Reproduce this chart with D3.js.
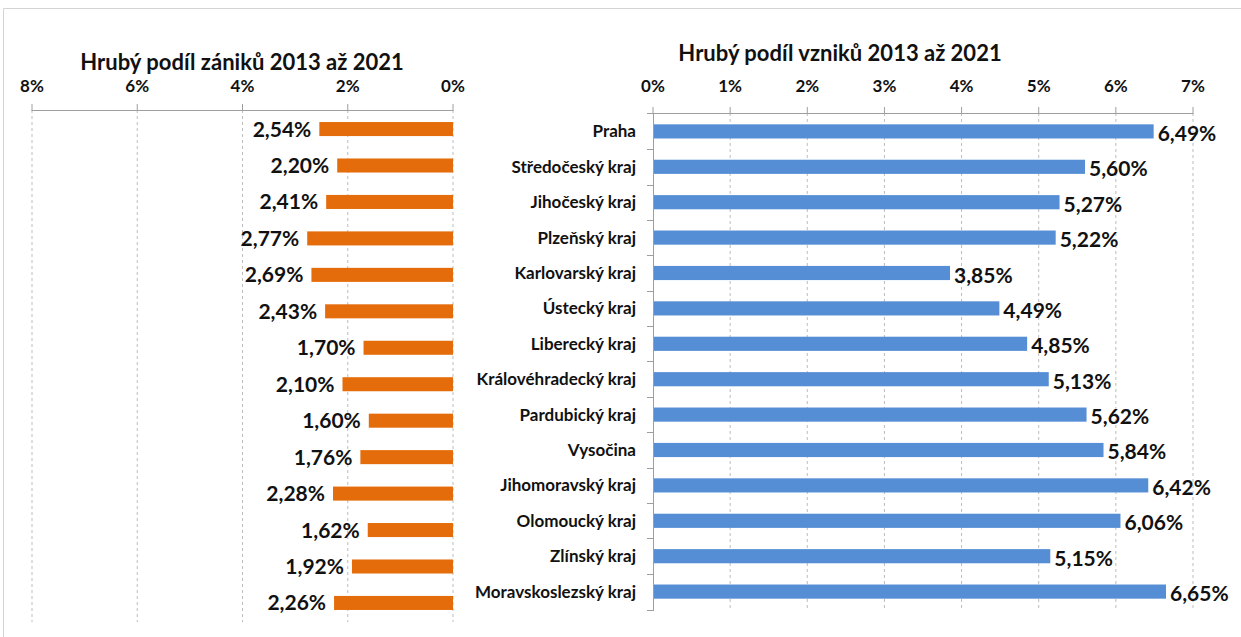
<!DOCTYPE html>
<html><head><meta charset="utf-8">
<script src="https://cdn.jsdelivr.net/npm/d3@7"></script>
<style>
html,body{margin:0;padding:0;background:#fff;}
svg text{font-family:Lato,"Open Sans",sans-serif;font-weight:bold;fill:#111;}
</style></head>
<body>
<svg id="c" width="1241" height="637"></svg>
<script>
const categories = ["Praha","Středočeský kraj","Jihočeský kraj","Plzeňský kraj","Karlovarský kraj","Ústecký kraj","Liberecký kraj","Královéhradecký kraj","Pardubický kraj","Vysočina","Jihomoravský kraj","Olomoucký kraj","Zlínský kraj","Moravskoslezský kraj"];
const zaniky = [2.54,2.20,2.41,2.77,2.69,2.43,1.70,2.10,1.60,1.76,2.28,1.62,1.92,2.26];
const vzniky = [6.49,5.60,5.27,5.22,3.85,4.49,4.85,5.13,5.62,5.84,6.42,6.06,5.15,6.65];
const leftTicks = [0,2,4,6,8];
const rightTicks = [0,1,2,3,4,5,6,7];
const leftTitle = "Hrubý podíl zániků 2013 až 2021";
const rightTitle = "Hrubý podíl vzniků 2013 až 2021";

const fmt = v => v.toFixed(2).replace(".", ",") + "%";
const svg = d3.select("#c");

// frame
svg.append("path").attr("d","M3.5,637 L3.5,8.5 L1241,8.5").attr("fill","none").attr("stroke","#d4d4d4");

// ---------- LEFT CHART ----------
const lx = d3.scaleLinear().domain([0,8]).range([453,32]);
const ly = d3.scaleBand().domain(categories).range([110,622]).paddingInner(0.615).paddingOuter(0.33);
const L = svg.append("g");
L.selectAll("line.grid").data(leftTicks).join("line")
  .attr("x1",d=>lx(d)).attr("x2",d=>lx(d)).attr("y1",110).attr("y2",622)
  .attr("stroke","#bdbdbd").attr("stroke-dasharray","3,3");
L.append("line").attr("x1",lx(8)).attr("x2",lx(0)).attr("y1",110.5).attr("y2",110.5).attr("stroke","#9e9e9e");
L.selectAll("line.tk").data(leftTicks).join("line")
  .attr("x1",d=>lx(d)).attr("x2",d=>lx(d)).attr("y1",104).attr("y2",111).attr("stroke","#9e9e9e");
L.selectAll("text.tl").data(leftTicks).join("text")
  .attr("x",d=>lx(d)).attr("y",92).attr("text-anchor","middle").attr("font-size",17)
  .text(d=>d+"%");
L.selectAll("rect").data(zaniky).join("rect")
  .attr("x",d=>lx(d)).attr("width",d=>lx(0)-lx(d))
  .attr("y",(d,i)=>ly(categories[i])).attr("height",ly.bandwidth())
  .attr("fill","#E46C0A");
L.selectAll("text.vl").data(zaniky).join("text")
  .attr("x",d=>lx(d)-8).attr("y",(d,i)=>ly(categories[i])+ly.bandwidth()/2+7.5)
  .attr("text-anchor","end").attr("font-size",21).text(d=>fmt(d));
L.append("text").attr("x",242).attr("y",70).attr("text-anchor","middle").attr("font-size",22).text(leftTitle);

// ---------- RIGHT CHART ----------
const rx = d3.scaleLinear().domain([0,7]).range([653,1193]);
const ry = d3.scaleBand().domain(categories).range([113,610]).paddingInner(0.6).paddingOuter(0.32);
const R = svg.append("g");
R.selectAll("line.grid").data(rightTicks.slice(1)).join("line")
  .attr("x1",d=>rx(d)).attr("x2",d=>rx(d)).attr("y1",113).attr("y2",610)
  .attr("stroke","#bdbdbd").attr("stroke-dasharray","3,3");
R.append("line").attr("x1",rx(0)).attr("x2",rx(7)).attr("y1",113.5).attr("y2",113.5).attr("stroke","#9e9e9e");
R.selectAll("line.tk").data(rightTicks).join("line")
  .attr("x1",d=>rx(d)).attr("x2",d=>rx(d)).attr("y1",107).attr("y2",114).attr("stroke","#9e9e9e");
R.selectAll("text.tl").data(rightTicks).join("text")
  .attr("x",d=>rx(d)).attr("y",92).attr("text-anchor","middle").attr("font-size",17)
  .text(d=>d+"%");
// category axis
R.append("line").attr("x1",653.5).attr("x2",653.5).attr("y1",113).attr("y2",610).attr("stroke","#9e9e9e");
const bounds = categories.map(c=>ry(c)-ry.step()*ry.paddingInner()/2).concat([610]);
bounds[0]=113;
R.selectAll("line.ct").data(bounds).join("line")
  .attr("x1",647).attr("x2",654).attr("y1",d=>Math.round(d)+0.5).attr("y2",d=>Math.round(d)+0.5).attr("stroke","#9e9e9e");
R.selectAll("text.cat").data(categories).join("text")
  .attr("x",636).attr("y",d=>ry(d)+ry.bandwidth()/2+6)
  .attr("text-anchor","end").attr("font-size",17).text(d=>d);
R.selectAll("rect").data(vzniky).join("rect")
  .attr("x",rx(0)+1).attr("width",d=>rx(d)-rx(0)-1)
  .attr("y",(d,i)=>ry(categories[i])).attr("height",ry.bandwidth())
  .attr("fill","#558ED5");
R.selectAll("text.vl").data(vzniky).join("text")
  .attr("x",d=>rx(d)+4).attr("y",(d,i)=>ry(categories[i])+ry.bandwidth()/2+9.5)
  .attr("text-anchor","start").attr("font-size",21).text(d=>fmt(d));
R.append("text").attr("x",840).attr("y",61).attr("text-anchor","middle").attr("font-size",22).text(rightTitle);
</script>
</body></html>
